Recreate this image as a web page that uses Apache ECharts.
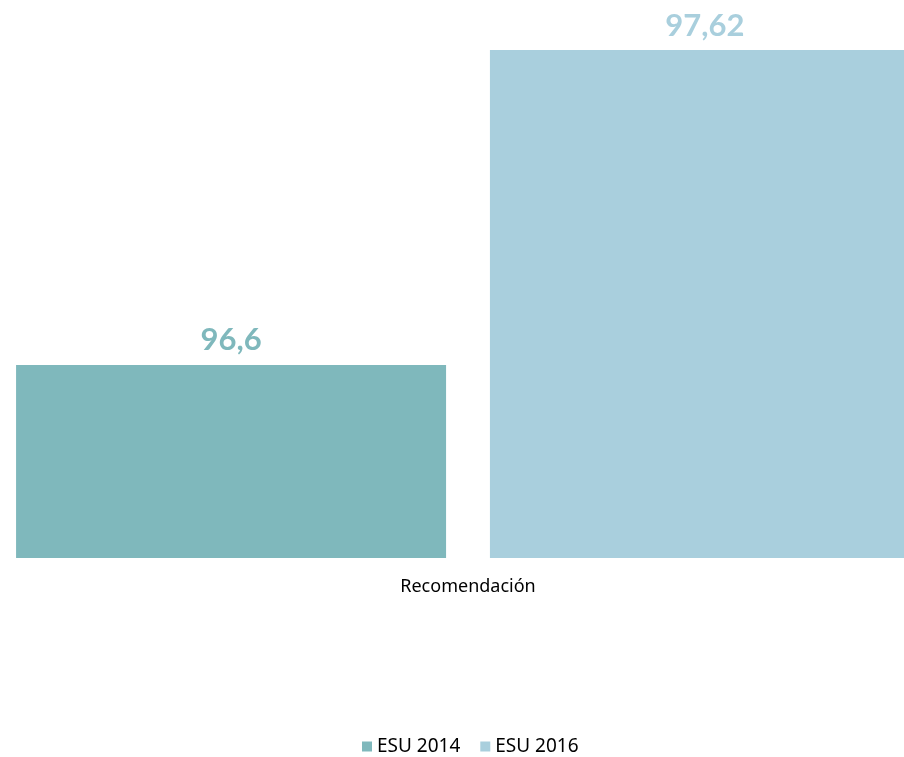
<!DOCTYPE html>
<html><head><meta charset="utf-8">
<script src="https://cdn.jsdelivr.net/npm/echarts@6/dist/echarts.min.js"></script>
<style>html,body{margin:0;padding:0;background:#fff;overflow:hidden}#c{width:936px;height:757px}</style>
</head><body><div id="c"></div>
<script>
const categories = ['Recomendación'];
const seriesNames = ['ESU 2014', 'ESU 2016'];
const esu2014 = [96.6];
const esu2016 = [97.62];
const colors = ['#7fb8bc', '#a9cfdd'];
const fmt = v => String(v.value).replace('.', ',');
const chart = echarts.init(document.getElementById('c'));
chart.setOption({
  animation: false,
  grid: { left: 0, right: 0, top: 50, bottom: 199, containLabel: false },
  legend: {
    top: 732, left: 357, itemWidth: 10, itemHeight: 10, itemGap: 20,
    icon: 'rect',
    textStyle: { fontFamily: 'Noto Sans', fontSize: 19, color: '#000' },
    data: seriesNames
  },
  xAxis: {
    type: 'category', data: categories,
    axisLine: { show: false }, axisTick: { show: false },
    axisLabel: { fontFamily: 'Noto Sans', fontSize: 18, color: '#000', margin: 20 }
  },
  yAxis: { type: 'value', min: 95.975, max: 97.62, show: false, splitLine: { show: false } },
  series: [
    { name: seriesNames[0], type: 'bar', data: esu2014, barWidth: 430, barGap: '10.2%',
      itemStyle: { color: colors[0] },
      label: { show: true, position: 'top', distance: 9, formatter: fmt, color: colors[0],
        fontFamily: 'Lato', fontWeight: 'bold', fontSize: 31 } },
    { name: seriesNames[1], type: 'bar', data: esu2016, barWidth: 430,
      itemStyle: { color: colors[1] },
      label: { show: true, position: 'top', distance: 9, formatter: fmt, color: colors[1],
        fontFamily: 'Lato', fontWeight: 'bold', fontSize: 31 } }
  ]
});
</script></body></html>
